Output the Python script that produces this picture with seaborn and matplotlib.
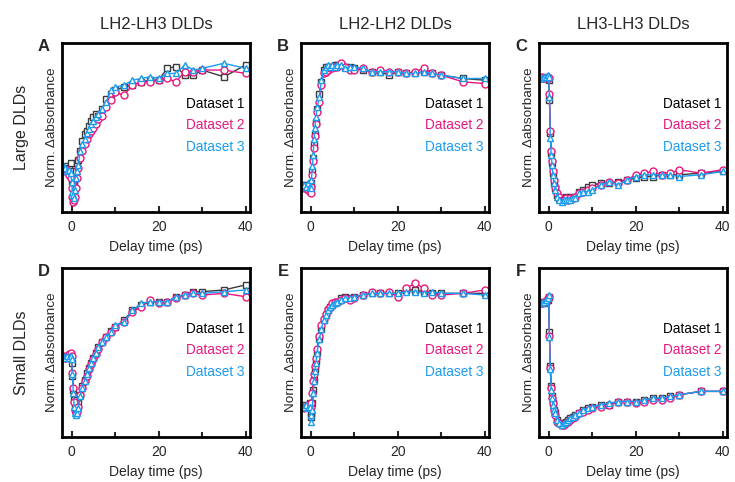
import numpy as np
import pandas as pd
import seaborn as sns
import matplotlib.pyplot as plt
from matplotlib.ticker import MultipleLocator

# delay times (ps), shared by all panels
delay = [-2.0, -1.5, -1.0, -0.5, -0.2, 0.0, 0.2, 0.4, 0.6, 0.8,
         1.0, 1.25, 1.5, 2.0, 2.5, 3.0, 3.5, 4.0, 4.5, 5.0,
         5.5, 6.0, 7.0, 8.0, 9.0, 10.0, 12.0, 14.0, 16.0, 18.0,
         20.0, 22.0, 24.0, 26.0, 28.0, 30.0, 35.0, 40.0]

# A: LH2-LH3, large DLDs
a_d1 = [0.26, 0.25, 0.27, 0.26, 0.29, 0.24, 0.18, 0.14, 0.16, 0.20,
        0.24, 0.29, 0.31, 0.36, 0.42, 0.46, 0.48, 0.51, 0.54, 0.56,
        0.58, 0.57, 0.61, 0.67, 0.70, 0.72, 0.74, 0.75, 0.77, 0.78,
        0.78, 0.85, 0.86, 0.81, 0.81, 0.84, 0.80, 0.87]
a_d2 = [0.25, 0.24, 0.25, 0.22, 0.20, 0.14, 0.09, 0.06, 0.07, 0.09,
        0.14, 0.20, 0.26, 0.32, 0.36, 0.40, 0.43, 0.46, 0.48, 0.50,
        0.52, 0.55, 0.57, 0.62, 0.66, 0.71, 0.69, 0.75, 0.77, 0.77,
        0.78, 0.79, 0.77, 0.83, 0.83, 0.84, 0.84, 0.82]
a_d3 = [0.27, 0.26, 0.24, 0.25, 0.23, 0.18, 0.12, 0.10, 0.08, 0.13,
        0.20, 0.24, 0.28, 0.36, 0.40, 0.43, 0.47, 0.49, 0.52, 0.54,
        0.56, 0.58, 0.61, 0.65, 0.72, 0.74, 0.75, 0.78, 0.79, 0.80,
        0.79, 0.82, 0.82, 0.87, 0.84, 0.85, 0.88, 0.85]

# B: LH2-LH2, large DLDs
b_d1 = [0.16, 0.15, 0.16, 0.15, 0.15, 0.14, 0.17, 0.24, 0.32, 0.40,
        0.46, 0.53, 0.61, 0.70, 0.77, 0.84, 0.86, 0.86, 0.86, 0.86,
        0.87, 0.87, 0.87, 0.86, 0.86, 0.85, 0.84, 0.83, 0.83, 0.81,
        0.83, 0.82, 0.82, 0.83, 0.82, 0.81, 0.79, 0.78]
b_d2 = [0.15, 0.14, 0.14, 0.13, 0.12, 0.11, 0.15, 0.22, 0.30, 0.38,
        0.45, 0.52, 0.59, 0.65, 0.75, 0.82, 0.83, 0.84, 0.85, 0.85,
        0.86, 0.86, 0.88, 0.86, 0.84, 0.84, 0.85, 0.83, 0.84, 0.83,
        0.83, 0.82, 0.83, 0.85, 0.82, 0.81, 0.77, 0.76]
b_d3 = [0.16, 0.16, 0.15, 0.17, 0.15, 0.14, 0.19, 0.27, 0.34, 0.43,
        0.50, 0.56, 0.62, 0.68, 0.78, 0.84, 0.86, 0.87, 0.86, 0.87,
        0.86, 0.87, 0.87, 0.85, 0.86, 0.86, 0.85, 0.83, 0.83, 0.83,
        0.83, 0.82, 0.82, 0.83, 0.82, 0.81, 0.79, 0.79]

# C: LH3-LH3, large DLDs
c_d1 = [0.79, 0.79, 0.79, 0.80, 0.79, 0.78, 0.66, 0.47, 0.35, 0.29,
        0.23, 0.17, 0.14, 0.10, 0.08, 0.08, 0.08, 0.09, 0.08, 0.09,
        0.08, 0.09, 0.12, 0.13, 0.15, 0.16, 0.17, 0.17, 0.18, 0.19,
        0.20, 0.21, 0.21, 0.22, 0.22, 0.22, 0.23, 0.24]
c_d2 = [0.79, 0.80, 0.79, 0.79, 0.80, 0.79, 0.70, 0.48, 0.36, 0.30,
        0.24, 0.19, 0.15, 0.11, 0.09, 0.07, 0.07, 0.08, 0.07, 0.08,
        0.08, 0.09, 0.11, 0.12, 0.13, 0.14, 0.16, 0.18, 0.17, 0.19,
        0.22, 0.23, 0.24, 0.22, 0.23, 0.25, 0.23, 0.25]
c_d3 = [0.79, 0.79, 0.80, 0.80, 0.81, 0.80, 0.68, 0.44, 0.34, 0.28,
        0.22, 0.17, 0.13, 0.09, 0.07, 0.06, 0.07, 0.07, 0.07, 0.07,
        0.08, 0.08, 0.11, 0.12, 0.12, 0.13, 0.16, 0.18, 0.16, 0.19,
        0.21, 0.22, 0.22, 0.22, 0.22, 0.21, 0.22, 0.24]

# D: LH2-LH3, small DLDs
d_d1 = [0.47, 0.48, 0.47, 0.48, 0.47, 0.44, 0.36, 0.28, 0.22, 0.17,
        0.16, 0.17, 0.20, 0.25, 0.30, 0.34, 0.38, 0.41, 0.44, 0.47,
        0.50, 0.53, 0.56, 0.59, 0.63, 0.65, 0.69, 0.75, 0.78, 0.80,
        0.80, 0.80, 0.83, 0.84, 0.86, 0.86, 0.87, 0.90]
d_d2 = [0.48, 0.47, 0.48, 0.49, 0.50, 0.48, 0.38, 0.29, 0.21, 0.16,
        0.14, 0.15, 0.18, 0.25, 0.29, 0.33, 0.36, 0.40, 0.43, 0.46,
        0.49, 0.52, 0.56, 0.59, 0.62, 0.65, 0.68, 0.74, 0.77, 0.81,
        0.79, 0.80, 0.82, 0.84, 0.85, 0.84, 0.85, 0.83]
d_d3 = [0.48, 0.47, 0.48, 0.47, 0.48, 0.46, 0.37, 0.26, 0.18, 0.14,
        0.13, 0.14, 0.17, 0.24, 0.29, 0.33, 0.37, 0.41, 0.44, 0.47,
        0.50, 0.53, 0.56, 0.59, 0.62, 0.66, 0.68, 0.75, 0.79, 0.80,
        0.80, 0.80, 0.83, 0.84, 0.85, 0.85, 0.86, 0.87]

# E: LH2-LH2, small DLDs
e_d1 = [0.18, 0.19, 0.18, 0.18, 0.20, 0.14, 0.12, 0.20, 0.28, 0.34,
        0.40, 0.45, 0.50, 0.58, 0.64, 0.69, 0.72, 0.75, 0.77, 0.78,
        0.79, 0.80, 0.82, 0.83, 0.82, 0.83, 0.84, 0.85, 0.85, 0.85,
        0.85, 0.87, 0.87, 0.86, 0.85, 0.85, 0.85, 0.85]
e_d2 = [0.18, 0.17, 0.18, 0.19, 0.17, 0.18, 0.20, 0.26, 0.33, 0.37,
        0.42, 0.47, 0.52, 0.60, 0.66, 0.70, 0.73, 0.76, 0.77, 0.79,
        0.80, 0.80, 0.81, 0.82, 0.81, 0.82, 0.84, 0.86, 0.85, 0.86,
        0.83, 0.88, 0.91, 0.88, 0.84, 0.84, 0.85, 0.87]
e_d3 = [0.18, 0.18, 0.19, 0.17, 0.18, 0.13, 0.09, 0.16, 0.26, 0.33,
        0.39, 0.44, 0.50, 0.58, 0.64, 0.69, 0.72, 0.75, 0.77, 0.78,
        0.79, 0.80, 0.81, 0.82, 0.82, 0.83, 0.84, 0.85, 0.85, 0.85,
        0.85, 0.86, 0.86, 0.85, 0.86, 0.85, 0.85, 0.84]

# F: LH3-LH3, small DLDs
f_d1 = [0.79, 0.80, 0.79, 0.80, 0.81, 0.83, 0.62, 0.42, 0.30, 0.24,
        0.20, 0.16, 0.14, 0.10, 0.08, 0.07, 0.08, 0.09, 0.10, 0.11,
        0.12, 0.13, 0.14, 0.16, 0.17, 0.18, 0.19, 0.19, 0.21, 0.21,
        0.21, 0.22, 0.23, 0.23, 0.24, 0.25, 0.27, 0.27]
f_d2 = [0.79, 0.79, 0.80, 0.80, 0.82, 0.83, 0.60, 0.41, 0.29, 0.23,
        0.20, 0.16, 0.13, 0.09, 0.08, 0.07, 0.07, 0.08, 0.09, 0.10,
        0.11, 0.12, 0.14, 0.15, 0.16, 0.17, 0.18, 0.19, 0.21, 0.21,
        0.20, 0.21, 0.22, 0.22, 0.23, 0.25, 0.27, 0.27]
f_d3 = [0.79, 0.79, 0.80, 0.81, 0.82, 0.84, 0.59, 0.40, 0.28, 0.23,
        0.19, 0.16, 0.14, 0.10, 0.08, 0.07, 0.08, 0.09, 0.10, 0.11,
        0.12, 0.13, 0.14, 0.16, 0.17, 0.18, 0.19, 0.20, 0.21, 0.21,
        0.21, 0.22, 0.23, 0.23, 0.24, 0.25, 0.27, 0.27]

col_titles = ['LH2-LH3 DLDs', 'LH2-LH2 DLDs', 'LH3-LH3 DLDs']
row_titles = ['Large DLDs', 'Small DLDs']
panel_letters = ['A', 'B', 'C', 'D', 'E', 'F']
dataset_names = ['Dataset 1', 'Dataset 2', 'Dataset 3']
panels = [[a_d1, a_d2, a_d3], [b_d1, b_d2, b_d3], [c_d1, c_d2, c_d3],
          [d_d1, d_d2, d_d3], [e_d1, e_d2, e_d3], [f_d1, f_d2, f_d3]]

colors = ['#3c3c3c', '#e8177f', '#1a9cf0']
text_colors = ['#000000', '#e8177f', '#1a9cf0']
markers = ['s', 'o', '^']

sns.set_style('white')
plt.rcParams['font.family'] = ['Liberation Sans', 'DejaVu Sans']

fig = plt.figure(figsize=(7.35, 4.82), dpi=100)
W, H = 735, 482
lefts = [62, 301, 539]
tops = [43, 268]
aw, ah = 188, 169

for i, series in enumerate(panels):
    r, c = divmod(i, 3)
    ax = fig.add_axes([lefts[c] / W, (H - tops[r] - ah) / H, aw / W, ah / H])
    for k, vals in enumerate(series):
        df = pd.DataFrame({'delay': delay, 'value': vals})
        sns.lineplot(data=df, x='delay', y='value', ax=ax, color=colors[k],
                     marker=markers[k], markersize=5, mfc='white',
                     mec=colors[k], mew=1.0, linewidth=1.0, legend=False)
        ax.text(0.66, 0.64 - 0.128 * k, dataset_names[k], transform=ax.transAxes,
                color=text_colors[k], fontsize=9.8, va='center')
    ax.set_xlim(-2.2, 41)
    ax.set_ylim(0, 1)
    ax.set_yticks([])
    ax.xaxis.set_major_locator(MultipleLocator(20))
    ax.xaxis.set_minor_locator(MultipleLocator(10))
    ax.tick_params(axis='x', which='both', direction='in', bottom=True,
                   labelsize=10, width=1.5, pad=6)
    ax.tick_params(axis='x', which='major', length=4)
    ax.tick_params(axis='x', which='minor', length=3.5)
    for sp in ax.spines.values():
        sp.set_linewidth(2)
        sp.set_color('black')
    ax.set_xlabel('Delay time (ps)', fontsize=10, labelpad=4)
    ax.set_ylabel('Norm. Δabsorbance', fontsize=9.7, labelpad=3)
    ax.text(-0.096, 0.98, panel_letters[i], transform=ax.transAxes,
            fontsize=12, fontweight='bold', ha='center', va='center')
    if r == 0:
        ax.set_title(col_titles[c], fontsize=12, pad=10)

for r, name in enumerate(row_titles):
    yc = (H - tops[r] - ah / 2) / H
    fig.text(22 / W, yc, name, rotation=90, fontsize=11.5, ha='center', va='center')

fig.savefig('out.png', dpi=100)
